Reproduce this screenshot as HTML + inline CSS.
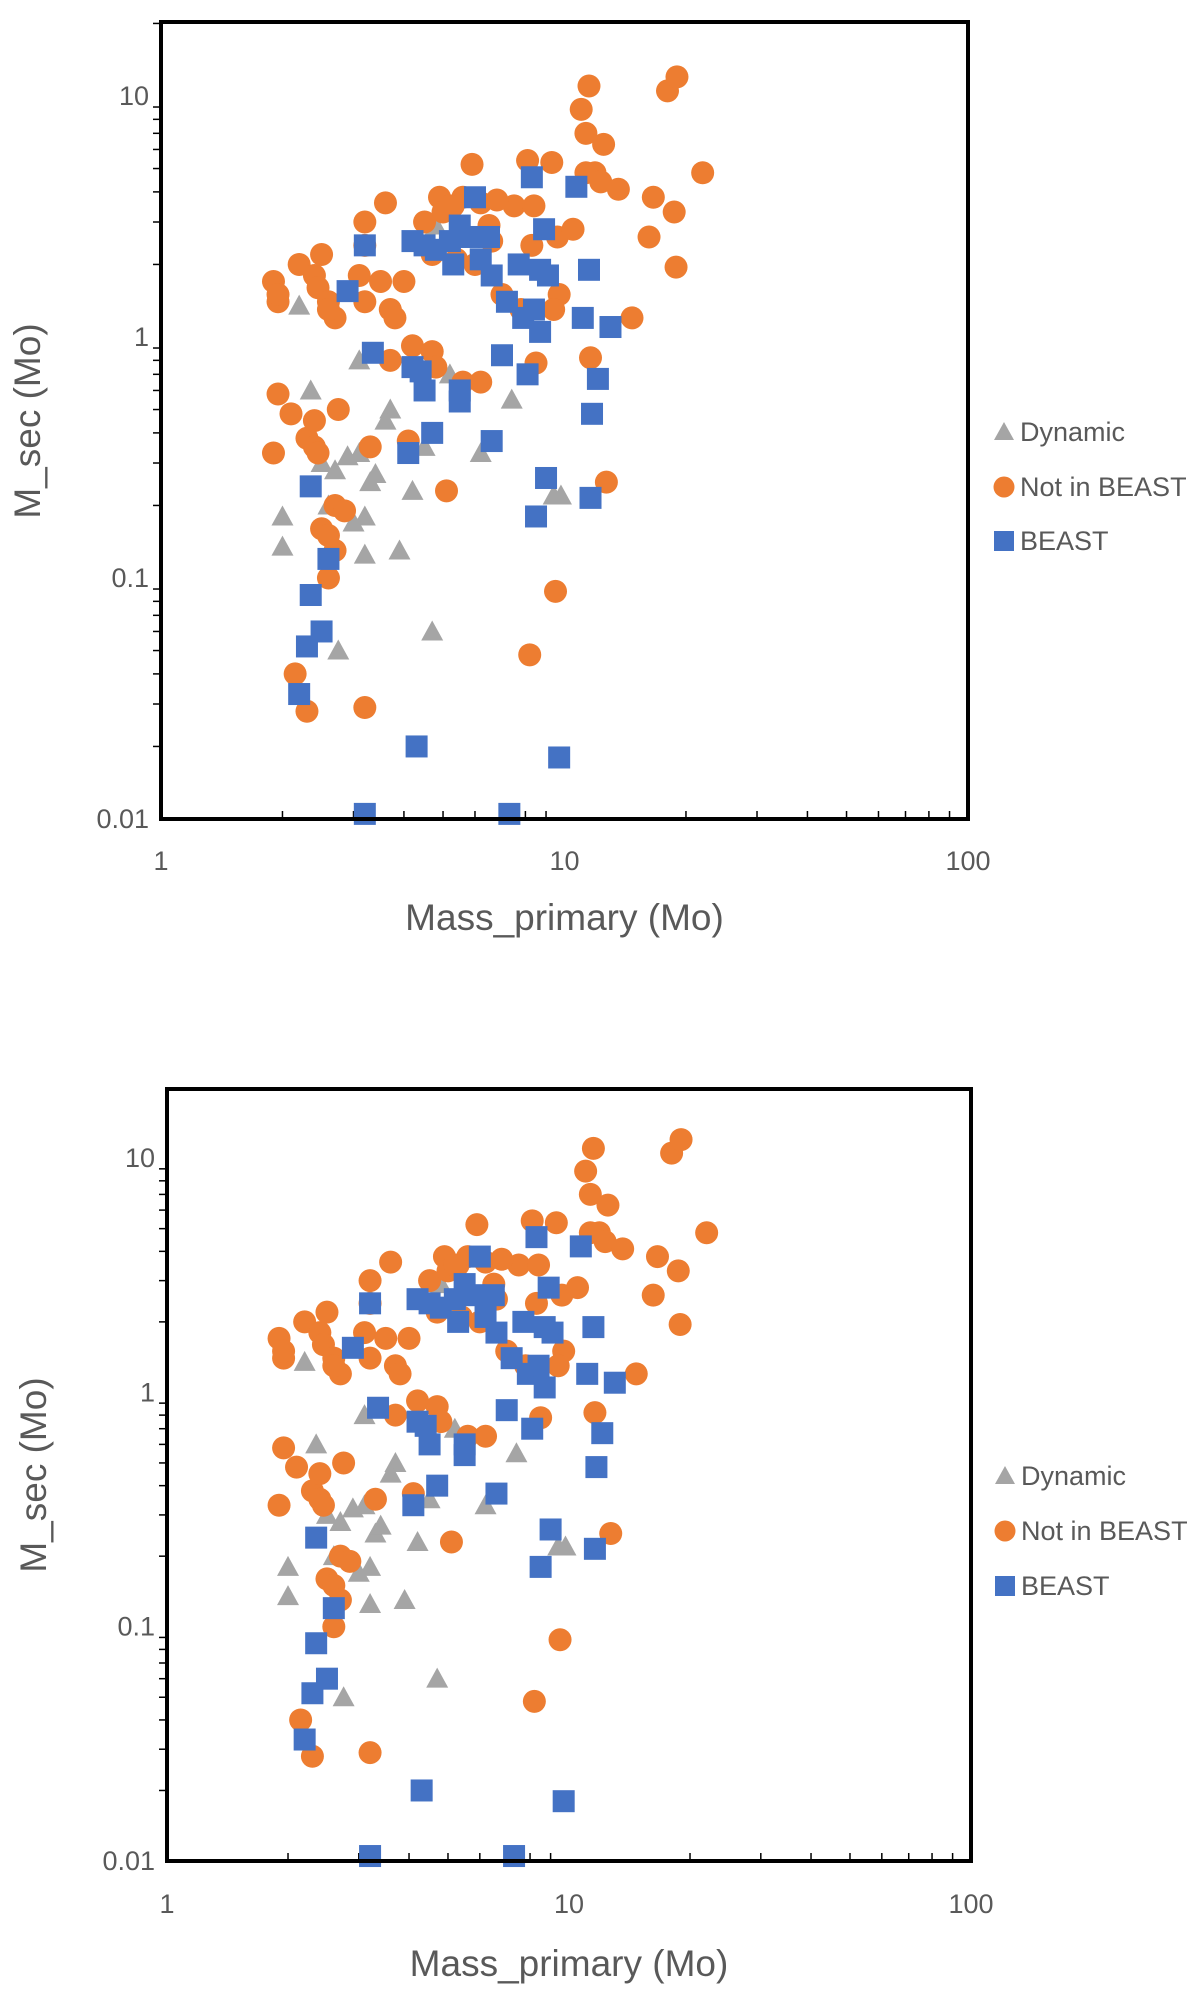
<!DOCTYPE html>
<html><head><meta charset="utf-8"><style>
html,body{margin:0;padding:0;background:#fff;}
svg{display:block;font-family:"Liberation Sans",sans-serif;}
</style></head><body>
<svg id="chart" width="1200" height="1999" viewBox="0 0 1200 1999"></svg>
<script>
const dynamicX=[2.2,2.35,3.1,3.7,3.6,2.0,2.0,2.5,2.7,2.9,3.1,3.3,3.4,3.2,3.2,3.9,4.2,4.5,4.7,2.75,6.2,7.4,9.4,9.8,4.8,2.6,3.0,5.2];
const dynamicY=[1.35,0.6,0.8,0.5,0.45,0.18,0.135,0.3,0.28,0.32,0.33,0.25,0.27,0.18,0.125,0.13,0.23,0.35,0.06,0.05,0.33,0.55,0.22,0.22,2.9,0.2,0.17,0.7];
const notBeastX=[1.9,1.95,1.95,2.2,2.4,2.5,2.45,2.6,2.7,2.6,3.2,3.2,3.1,3.2,3.5,3.6,3.7,3.8,4.0,1.95,1.9,2.1,2.3,2.4,2.4,2.45,2.75,2.5,2.6,2.7,2.85,2.7,2.6,3.3,4.1,2.15,2.3,3.2,4.2,4.7,4.8,3.7,5.1,5.6,6.2,4.5,4.7,4.9,5.0,5.3,5.6,5.9,6.2,6.5,6.6,5.4,6.0,7.0,7.5,8.1,8.4,8.3,9.3,9.6,9.7,9.4,10.5,11.0,11.5,11.3,11.3,11.9,12.3,12.5,13.6,11.6,12.7,14.7,16.2,16.6,18.0,19.0,18.7,18.9,22,8.2,9.5,8.5,7.8,5.2,6.8];
const notBeastY=[1.7,1.4,1.5,2.0,1.8,2.2,1.6,1.4,1.2,1.3,3.0,2.4,1.8,1.4,1.7,3.6,1.3,1.2,1.7,0.58,0.33,0.48,0.38,0.45,0.35,0.33,0.5,0.16,0.15,0.2,0.19,0.13,0.1,0.35,0.37,0.04,0.028,0.029,0.92,0.87,0.75,0.8,0.23,0.65,0.65,3.0,2.2,3.8,3.3,3.5,3.8,5.2,3.6,2.9,2.5,2.1,2.0,1.5,3.5,5.4,3.5,2.4,5.3,2.6,1.5,1.3,2.8,8.8,11,7.0,4.8,4.8,4.4,6.3,4.1,0.82,0.25,1.2,2.6,3.8,10.5,12,3.3,1.95,4.8,0.048,0.088,0.78,1.3,3.5,3.7];
const beastX=[2.2,2.3,2.35,2.5,2.35,2.6,2.9,3.2,3.35,3.2,4.1,4.2,4.4,4.5,4.7,4.3,4.2,4.5,4.8,5.2,5.3,5.5,5.5,5.5,5.8,6.0,6.2,6.5,6.6,6.6,7.0,7.2,7.3,7.7,7.9,8.1,8.3,8.4,8.7,8.7,8.9,9.1,9.0,8.5,9.7,10.7,11.1,11.5,11.7,12.1,13.0,11.6];
const beastY=[0.033,0.052,0.085,0.06,0.24,0.12,1.55,2.4,0.86,0.0105,0.33,0.75,0.72,0.6,0.4,0.02,2.5,2.4,2.3,2.5,2.0,0.6,0.54,2.9,2.6,3.8,2.1,2.6,1.8,0.37,0.84,1.4,0.0105,2.0,1.2,0.7,4.6,1.3,1.05,1.9,2.8,1.8,0.26,0.18,0.018,4.2,1.2,1.9,0.48,0.67,1.1,0.215];
const xTickLabels=["1","10","100"];
const yTickLabels=["0.01","0.1","1","10"];
const legendLabels=["Dynamic","Not in BEAST","BEAST"];

const NS="http://www.w3.org/2000/svg";
const svg=document.getElementById('chart');
function mk(tag,attrs,parent){const e=document.createElementNS(NS,tag);for(const k in attrs)e.setAttribute(k,attrs[k]);(parent||svg).appendChild(e);return e;}

function drawChart(cfg,idx){
  const g=mk('g',{});
  
  
  const L=cfg.left,R=cfg.right,T=cfg.top,B=cfg.bottom;
  const ymaxLog=cfg.ymaxLog;
  const xs=v=>L+(Math.log10(v)-0)/2*(R-L);
  const ys=v=>B-(Math.log10(v)+2)/(ymaxLog+2)*(B-T);
  for(let d=0;d<2;d++)for(let m=2;m<10;m++){
    const x=xs(m*Math.pow(10,d));
    const t=mk('line',{x1:x,x2:x,y1:B,y2:B-8,stroke:'#000','stroke-width':1.5},g);
    
  }
  for(let d=-2;d<2;d++)for(let m=2;m<10;m++){
    const v=m*Math.pow(10,d); if(Math.log10(v)>ymaxLog)continue;
    const y=ys(v);
    const t=mk('line',{x1:L,x2:L-8,y1:y,y2:y,stroke:'#000','stroke-width':1.5},g);
    
  }
  xTickLabels.forEach(s=>{
    const t=mk('text',{x:xs(+s),y:cfg.xLabelY,'text-anchor':'middle','font-size':27,fill:'#595959'},g);
    t.textContent=s;
    
  });
  yTickLabels.forEach(s=>{
    const t=mk('text',{x:L-12,y:ys(+s)+9,'text-anchor':'end','font-size':27,fill:'#595959'},g);
    t.textContent=s;
    
  });
  const xt=mk('text',{x:(L+R)/2,y:cfg.xTitleY,'text-anchor':'middle','font-size':37,fill:'#595959'},g);
  xt.textContent='Mass_primary (Mo)';
  
  const yt=mk('text',{x:0,y:0,'text-anchor':'middle','font-size':37,fill:'#595959',transform:`translate(${cfg.yTitleX},${cfg.yTitleY}) rotate(-90)`},g);
  yt.textContent='M_sec (Mo)';
  
  const gd=mk('g',{},g);
  dynamicX.forEach((xv,i)=>{const x=xs(xv),y=ys(dynamicY[i]);
    const p=mk('polygon',{points:`${x},${y-11} ${x-11},${y+9} ${x+11},${y+9}`,fill:'#a5a5a5'},gd);
    });
  const go=mk('g',{},g);
  notBeastX.forEach((xv,i)=>{
    const c=mk('circle',{cx:xs(xv),cy:ys(notBeastY[i]),r:11.5,fill:'#ed7d31'},go);
    });
  const gb=mk('g',{},g);
  beastX.forEach((xv,i)=>{
    const r=mk('rect',{x:xs(xv)-11,y:ys(beastY[i])-11,width:22,height:22,fill:'#4472c4'},gb);
    });
  const box=mk('rect',{x:L,y:T,width:R-L,height:B-T,fill:'none',stroke:'#000','stroke-width':4},g);
  
  const lg=mk('g',{},g);
  const colors=['#a5a5a5','#ed7d31','#4472c4'];
  legendLabels.forEach((s,i)=>{
    const y=cfg.legendY[i], x=cfg.legendX;
    let m;
    if(i===0)m=mk('polygon',{points:`${x},${y-10} ${x-10},${y+8} ${x+10},${y+8}`,fill:colors[0]},lg);
    else if(i===1)m=mk('circle',{cx:x,cy:y,r:10.5,fill:colors[1]},lg);
    else m=mk('rect',{x:x-10,y:y-10,width:20,height:20,fill:colors[2]},lg);
    
    const t=mk('text',{x:x+16,y:y+9,'font-size':27,fill:'#595959'},lg);
    t.textContent=s;
    
  });
}
drawChart({left:161,right:968,top:22,bottom:819,ymaxLog:1.307,xLabelY:870,xTitleY:930,yTitleX:40,yTitleY:421,legendX:1004,legendY:[432,487,541]},1);
drawChart({left:167,right:971,top:1089,bottom:1861,ymaxLog:1.295,xLabelY:1913,xTitleY:1976,yTitleX:46,yTitleY:1475,legendX:1005,legendY:[1476,1531,1586]},2);
</script>
</body></html>
